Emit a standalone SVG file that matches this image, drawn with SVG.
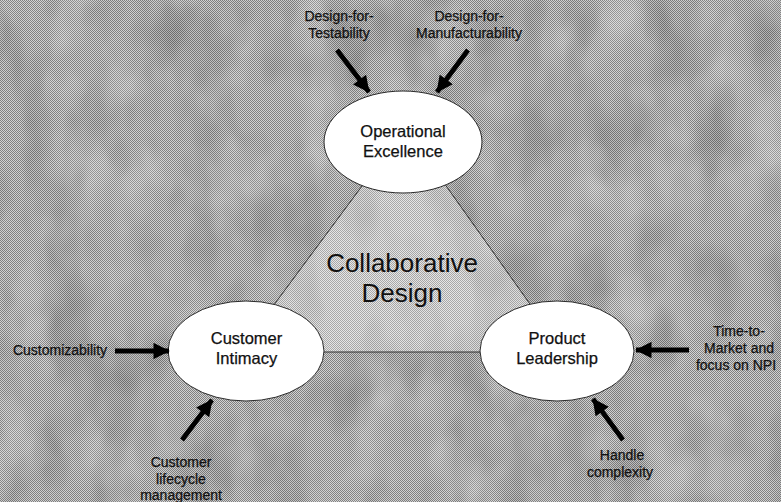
<svg xmlns="http://www.w3.org/2000/svg" width="781" height="502" viewBox="0 0 781 502">
  <defs>
    <!-- halftone-style dither for the grey backdrop -->
    <pattern id="dither" width="2" height="2" patternUnits="userSpaceOnUse">
      <rect width="2" height="2" fill="#d2d2d2"/>
      <rect width="1" height="1" fill="#808080"/>
      <rect x="1" y="1" width="1" height="1" fill="#808080"/>
    </pattern>
    <pattern id="ditherLight" width="2" height="2" patternUnits="userSpaceOnUse">
      <rect width="2" height="2" fill="#e6e6e6"/>
      <rect width="1" height="1" fill="#a8a8a8"/>
      <rect x="1" y="1" width="1" height="1" fill="#a8a8a8"/>
    </pattern>
    <!-- soft mottling over the backdrop: dark and light patches -->
    <filter id="mottle" x="0" y="0" width="100%" height="100%">
      <feTurbulence type="fractalNoise" baseFrequency="0.022 0.012" numOctaves="3" seed="7" result="n"/>
      <feColorMatrix in="n" type="matrix" values="0 0 0 0 0  0 0 0 0 0  0 0 0 0 0  0 0 0 -1.6 0.9"/>
    </filter>
    <filter id="mottleLight" x="0" y="0" width="100%" height="100%">
      <feTurbulence type="fractalNoise" baseFrequency="0.02 0.014" numOctaves="3" seed="11" result="n"/>
      <feColorMatrix in="n" type="matrix" values="0 0 0 0 1  0 0 0 0 1  0 0 0 0 1  0 0 0 1.8 -0.85"/>
    </filter>
    <marker id="head" viewBox="0 0 10 10" refX="9.5" refY="5" markerWidth="3.6" markerHeight="3.4" markerUnits="strokeWidth" orient="auto">
      <path d="M0,0 L10,5 L0,10 z" fill="#000"/>
    </marker>
    <clipPath id="triClip">
      <polygon points="405,128 239,352 564,352"/>
    </clipPath>
  </defs>
  <style>
    .node { fill: #ffffff; stroke: #2a2a2a; stroke-width: 1; }
    .title { font-family: "Liberation Sans", Arial, sans-serif; font-size: 16.5px; fill: #111; text-anchor: middle; stroke: #111; stroke-width: 0.25; }
    .label { font-family: "Liberation Sans", Arial, sans-serif; font-size: 14px; fill: #111; text-anchor: middle; stroke: #111; stroke-width: 0.25; }
    .center { font-family: "Liberation Sans", Arial, sans-serif; font-size: 26px; fill: #111; text-anchor: middle; }
    .arrow { stroke: #000; stroke-width: 4.8; fill: none; marker-end: url(#head); }
    .edge { stroke: #333; stroke-width: 1; fill: none; }
  </style>

  <!-- backdrop -->
  <rect width="781" height="502" fill="url(#dither)"/>
  <rect width="781" height="502" fill="#000" filter="url(#mottle)" opacity="0.22"/>
  <rect width="781" height="502" fill="#fff" filter="url(#mottleLight)" opacity="0.3"/>

  <!-- central triangle -->
  <g id="collaborative-design">
    <polygon points="405,128 239,352 564,352" fill="url(#ditherLight)"/>
    <rect width="781" height="502" fill="#000" filter="url(#mottle)" opacity="0.12" clip-path="url(#triClip)"/>
    <polygon points="405,128 239,352 564,352" class="edge"/>
    <text class="center" x="402" y="272">Collaborative</text>
    <text class="center" x="402" y="302">Design</text>
  </g>

  <!-- nodes -->
  <g id="operational-excellence">
    <ellipse class="node" cx="403" cy="142" rx="79" ry="51"/>
    <text class="title" x="403" y="137">Operational</text>
    <text class="title" x="403" y="157">Excellence</text>
  </g>
  <g id="customer-intimacy">
    <ellipse class="node" cx="246" cy="351" rx="78" ry="50"/>
    <text class="title" x="246.5" y="344">Customer</text>
    <text class="title" x="246.5" y="364">Intimacy</text>
  </g>
  <g id="product-leadership">
    <ellipse class="node" cx="557" cy="351" rx="77" ry="50"/>
    <text class="title" x="557" y="344">Product</text>
    <text class="title" x="557" y="364">Leadership</text>
  </g>

  <!-- driver labels -->
  <g id="design-for-testability">
    <text class="label" x="339" y="21">Design-for-</text>
    <text class="label" x="339" y="38">Testability</text>
  </g>
  <g id="design-for-manufacturability">
    <text class="label" x="469" y="21">Design-for-</text>
    <text class="label" x="469" y="38">Manufacturability</text>
  </g>
  <g id="customizability">
    <text class="label" x="60" y="355">Customizability</text>
  </g>
  <g id="customer-lifecycle-management">
    <text class="label" x="181" y="467">Customer</text>
    <text class="label" x="181" y="483.5">lifecycle</text>
    <text class="label" x="181" y="500">management</text>
  </g>
  <g id="time-to-market">
    <text class="label" x="739" y="336">Time-to-</text>
    <text class="label" x="739" y="353">Market and</text>
    <text class="label" x="736" y="370">focus on NPI</text>
  </g>
  <g id="handle-complexity">
    <text class="label" x="622" y="460">Handle</text>
    <text class="label" x="620" y="477">complexity</text>
  </g>

  <!-- connectors -->
  <g id="connectors">
    <line class="arrow" x1="337" y1="50" x2="369" y2="92"/>
    <line class="arrow" x1="468" y1="50" x2="437" y2="92"/>
    <line class="arrow" x1="115" y1="351" x2="169" y2="351"/>
    <line class="arrow" x1="182" y1="440" x2="212" y2="400"/>
    <line class="arrow" x1="689" y1="350" x2="636" y2="350"/>
    <line class="arrow" x1="623" y1="440" x2="593" y2="399"/>
  </g>
</svg>
